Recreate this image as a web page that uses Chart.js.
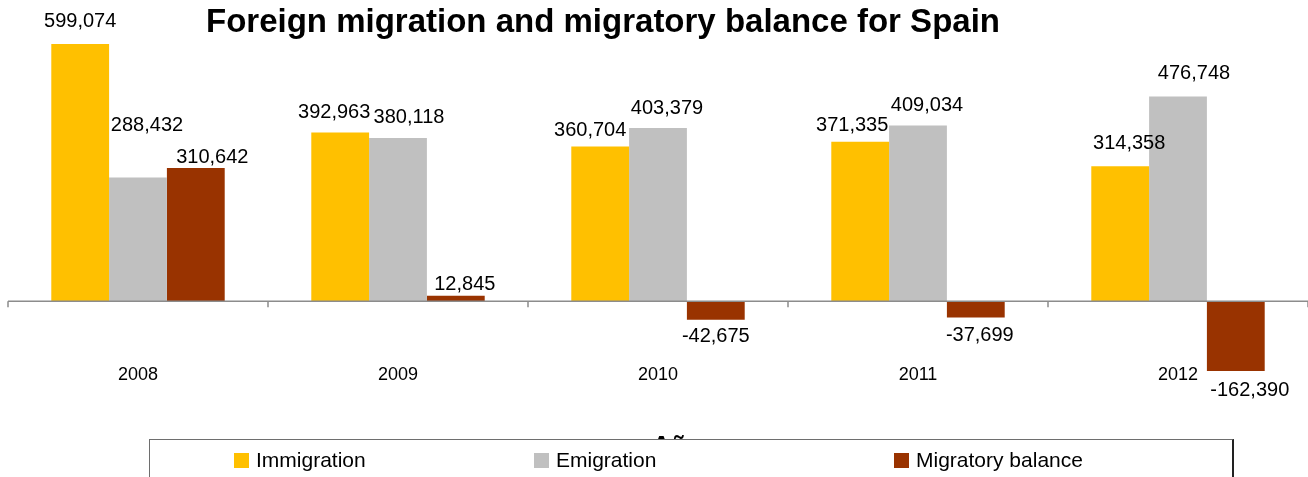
<!DOCTYPE html>
<html>
<head>
<meta charset="utf-8">
<title>Foreign migration and migratory balance for Spain</title>
<script src="https://cdn.jsdelivr.net/npm/chart.js@4.4.0/dist/chart.umd.min.js"></script>
<style>
  html, body { margin: 0; padding: 0; background: #fff; }
  body { width: 1308px; height: 477px; overflow: hidden; position: relative;
         font-family: "Liberation Sans", Arial, sans-serif; }
  #chart { position: absolute; left: 0; top: 0; }
  .title { position: absolute; left: 0; top: 4px; width: 1206px; text-align: center;
           font-weight: bold; font-size: 33px; line-height: 33px; color: #000; }
  .axis-title { position: absolute; left: 652px; top: 432px; font-weight: bold;
                font-size: 26px; line-height: 26px; color: #000; }
  .legend { position: absolute; left: 149px; top: 439px; width: 1082px; height: 60px;
            background: #fff; border: 1px solid #6e6e6e; border-right: 2px solid #222; }
  .legend .item { position: absolute; top: 9px; font-size: 21px; line-height: 21px; color: #000; }
  .legend .swatch { position: absolute; left: -22px; top: 4px; width: 15px; height: 15px; }
</style>
</head>
<body>
<canvas id="chart" width="1308" height="477"></canvas>
<div class="title">Foreign migration and migratory balance for Spain</div>
<div class="axis-title">Año</div>
<div class="legend" id="legend"></div>
<script>
var years = ['2008', '2009', '2010', '2011', '2012'];
var immigration = [599074, 392963, 360704, 371335, 314358];
var emigration = [288432, 380118, 403379, 409034, 476748];
var balance = [310642, 12845, -42675, -37699, -162390];

var seriesNames = ['Immigration', 'Emigration', 'Migratory balance'];
var seriesColors = ['#FFC000', '#C0C0C0', '#993300'];

// nudges for the value labels (dx, dy from the bar end to the text centre)
var labelNudge = [
  [[0, -24.5], [-6, -22], [-10, -18], [-8, -18], [9, -24]],
  [[9, -53.4], [11, -22], [9, -21], [9, -21.5], [16, -24.5]],
  [[16.5, -12.4], [9, -13], [0, 15.5], [4, 16.5], [14, 17.5]]
];

function fmt(v) {
  return v.toLocaleString('en-US');
}

// zero line, category ticks, year labels and value labels
var decorations = {
  id: 'decorations',
  afterDatasetsDraw: function (chart) {
    var ctx = chart.ctx;
    var x = chart.scales.x;
    var y = chart.scales.y;
    var zero = y.getPixelForValue(0);
    var half = (x.getPixelForValue(1) - x.getPixelForValue(0)) / 2;

    ctx.save();
    ctx.strokeStyle = '#8c8c8c';
    ctx.lineWidth = 1.5;
    ctx.beginPath();
    ctx.moveTo(chart.chartArea.left, zero);
    ctx.lineTo(chart.chartArea.right, zero);
    for (var i = 0; i <= years.length; i++) {
      var tx = x.getPixelForValue(0) - half + i * half * 2;
      ctx.moveTo(tx, zero);
      ctx.lineTo(tx, zero + 6);
    }
    ctx.stroke();

    ctx.fillStyle = '#000';
    ctx.textAlign = 'center';
    ctx.textBaseline = 'alphabetic';
    ctx.font = '18px "Liberation Sans", Arial, sans-serif';
    years.forEach(function (yr, i) {
      ctx.fillText(yr, x.getPixelForValue(i), 374 + 6.4);
    });

    ctx.font = '20px "Liberation Sans", Arial, sans-serif';
    chart.data.datasets.forEach(function (ds, d) {
      var meta = chart.getDatasetMeta(d);
      meta.data.forEach(function (bar, i) {
        var n = labelNudge[d][i];
        ctx.fillText(fmt(ds.data[i]), bar.x + n[0], bar.y + n[1] + 7.2);
      });
    });
    ctx.restore();
  }
};

new Chart(document.getElementById('chart'), {
  type: 'bar',
  data: {
    labels: years,
    datasets: [
      { label: seriesNames[0], data: immigration, backgroundColor: seriesColors[0] },
      { label: seriesNames[1], data: emigration, backgroundColor: seriesColors[1] },
      { label: seriesNames[2], data: balance, backgroundColor: seriesColors[2] }
    ]
  },
  options: {
    responsive: false,
    animation: false,
    devicePixelRatio: 1,
    layout: { padding: { left: 8, right: 0, top: 43.6, bottom: 89.8 } },
    datasets: {
      bar: { barPercentage: 1, categoryPercentage: 0.667, borderWidth: 0 }
    },
    scales: {
      x: { display: false },
      y: { display: false, min: -200000, max: 600000 }
    },
    plugins: {
      legend: { display: false },
      title: { display: false },
      tooltip: { enabled: false }
    }
  },
  plugins: [decorations]
});

// legend entries
var legendLefts = [106, 406, 766];
var legend = document.getElementById('legend');
seriesNames.forEach(function (name, i) {
  var item = document.createElement('div');
  item.className = 'item';
  item.style.left = legendLefts[i] + 'px';
  item.textContent = name;
  var sw = document.createElement('span');
  sw.className = 'swatch';
  sw.style.background = seriesColors[i];
  item.appendChild(sw);
  legend.appendChild(item);
});
</script>
</body>
</html>
